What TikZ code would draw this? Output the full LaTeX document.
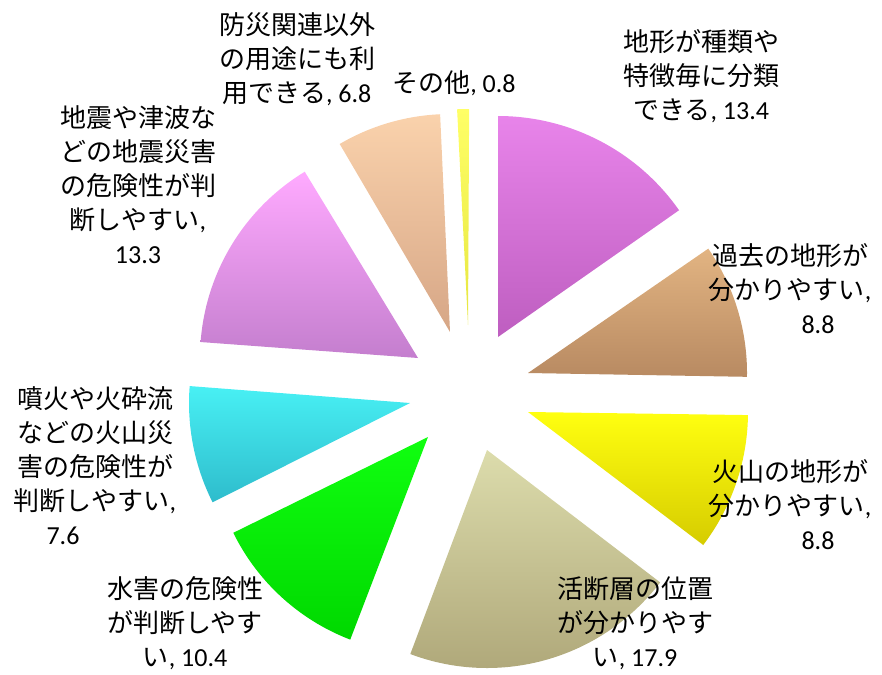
\documentclass[tikz,border=0pt]{standalone}
\usepackage{fontspec}
\setmainfont{Carlito}
\newfontfamily\jp{Noto Sans CJK JP}
\usepackage{tikz}
\definecolor{chiketop}{HTML}{E884EA}
\definecolor{chikebot}{HTML}{BE5EC0}
\definecolor{kakotop}{HTML}{E2B482}
\definecolor{kakobot}{HTML}{B88A62}
\definecolor{kazantop}{HTML}{FFFF10}
\definecolor{kazanbot}{HTML}{D6CC00}
\definecolor{dansotop}{HTML}{DCDCAC}
\definecolor{dansobot}{HTML}{ACA476}
\definecolor{suigaitop}{HTML}{10FF10}
\definecolor{suigaibot}{HTML}{00D800}
\definecolor{funkatop}{HTML}{48F0F4}
\definecolor{funkabot}{HTML}{2EBCCC}
\definecolor{jishintop}{HTML}{FFAAFF}
\definecolor{jishinbot}{HTML}{C47ECE}
\definecolor{bosaitop}{HTML}{FAD2AC}
\definecolor{bosaibot}{HTML}{D6A686}
\definecolor{sonotatop}{HTML}{FFFF66}
\definecolor{sonotabot}{HTML}{E6E640}
\newcommand{\lblnum}[1]{{\rmfamily#1}}

\begin{document}
\begin{tikzpicture}[x=1pt, y=1pt,
  lbl/.style={align=center, inner sep=0pt, font=\jp\fontsize{26}{34}\selectfont}]
\useasboundingbox (0,0) rectangle (882,-674);
\shade[top color=chiketop, bottom color=chikebot] (498,-337) -- ++(35:221) arc[start angle=35, end angle=90, radius=221] -- cycle;
\shade[top color=kakotop, bottom color=kakobot] (528,-373) -- ++(-1:219) arc[start angle=-1, end angle=34.6, radius=219] -- cycle;
\shade[top color=kazantop, bottom color=kazanbot] (528,-412) -- ++(-37.2:220) arc[start angle=-37.2, end angle=-0.8, radius=220] -- cycle;
\shade[top color=dansotop, bottom color=dansobot] (487,-450) -- ++(-110.6:218) arc[start angle=-110.6, end angle=-37.4, radius=218] -- cycle;
\shade[top color=suigaitop, bottom color=suigaibot] (428,-437) -- ++(206.2:217) arc[start angle=206.2, end angle=249, radius=217] -- cycle;
\shade[top color=funkatop, bottom color=funkabot] (410,-403) -- ++(175.6:221) arc[start angle=175.6, end angle=206.7, radius=221] -- cycle;
\shade[top color=jishintop, bottom color=jishinbot] (418,-358) -- ++(121.3:218) arc[start angle=121.3, end angle=175.8, radius=218] -- cycle;
\shade[top color=bosaitop, bottom color=bosaibot] (450,-332) -- ++(92.6:218) arc[start angle=92.6, end angle=120.4, radius=218] -- cycle;
\shade[top color=sonotatop, bottom color=sonotabot] (468,-325) -- ++(89.7:216) arc[start angle=89.7, end angle=92.9, radius=216] -- cycle;
\node[lbl] (chike) at (701,-76) {地形が種類や\\特徴毎に分類\\できる\lblnum{, 13.4}};
\node[lbl] (kako) at (790,-289) {過去の地形が\\分かりやすい\lblnum{,}\\\hspace*{56pt}\lblnum{8.8}};
\node[lbl] (kazan) at (790,-505) {火山の地形が\\分かりやすい\lblnum{,}\\\hspace*{56pt}\lblnum{8.8}};
\node[lbl] (danso) at (635,-623) {活断層の位置\\が分かりやす\\い\lblnum{, 17.9}};
\node[lbl] (suigai) at (185,-623) {水害の危険性\\が判断しやす\\い\lblnum{, 10.4}};
\node[lbl] (funka) at (95,-466) {噴火や火砕流\\などの火山災\\害の危険性が\\判断しやすい\lblnum{,}\\\lblnum{7.6}\hspace*{64pt}};
\node[lbl] (jishin) at (138,-185) {地震や津波な\\どの地震災害\\の危険性が判\\断しやすい\lblnum{,}\\\lblnum{13.3}};
\node[lbl] (bosai) at (297,-59) {防災関連以外\\の用途にも利\\用できる\lblnum{, 6.8}};
\node[lbl] (sonota) at (454,-83) {その他\lblnum{, 0.8}};
\end{tikzpicture}
\end{document}
